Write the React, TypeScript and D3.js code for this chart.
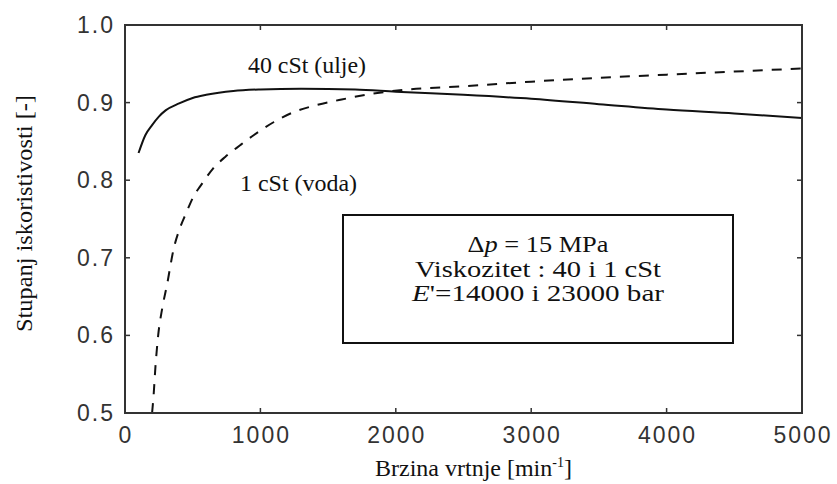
import React from "react";
import * as d3 from "d3";

const xTicks = [0, 1000, 2000, 3000, 4000, 5000];
const yTicks = [0.5, 0.6, 0.7, 0.8, 0.9, 1.0];
const yTickLabels = ["0.5", "0.6", "0.7", "0.8", "0.9", "1.0"];

const oilX = [100, 150, 200, 250, 300, 400, 500, 600, 800, 1000, 1300, 1700, 2000, 2500, 3000, 3500, 4000, 4500, 5000];
const oilY = [0.835, 0.858, 0.871, 0.882, 0.89, 0.899, 0.906, 0.91, 0.915, 0.917, 0.918, 0.917, 0.914, 0.91, 0.905, 0.898, 0.891, 0.886, 0.88];

const waterX = [200, 210, 225, 245, 275, 310, 360, 405, 450, 515, 555, 650, 740, 850, 950, 1100, 1250, 1420, 1600, 1850, 2100, 2500, 3000, 3500, 4000, 4500, 5000];
const waterY = [0.5, 0.52, 0.56, 0.6, 0.635, 0.665, 0.712, 0.738, 0.757, 0.782, 0.792, 0.815, 0.83, 0.845, 0.858, 0.875, 0.888, 0.897, 0.904, 0.912, 0.917, 0.921, 0.927, 0.932, 0.936, 0.94, 0.944];

const L = 125, R = 802, T = 25, B = 413;

export default function App() {
  const x = d3.scaleLinear().domain([0, 5000]).range([L, R]);
  const y = d3.scaleLinear().domain([0.5, 1.0]).range([B, T]);
  const line = d3
    .line<[number, number]>()
    .x((d) => x(d[0]))
    .y((d) => y(d[1]))
    .curve(d3.curveMonotoneX);
  const oil = line(oilX.map((v, i) => [v, oilY[i]]) as [number, number][]) || "";
  const water = line(waterX.map((v, i) => [v, waterY[i]]) as [number, number][]) || "";
  const tickFont = { fontFamily: "'Liberation Sans', Arial, sans-serif", fontSize: 23, letterSpacing: 2, fill: "#333" };
  const serif = "'Liberation Serif', 'Times New Roman', serif";
  const fs = 24;
  const tl = 5;
  return (
    <svg width={837} height={484} style={{ position: "absolute", left: 0, top: 0, background: "#fff" }}>
      <rect x={0} y={0} width={837} height={484} fill="#fff" />
      <defs>
        <clipPath id="plot">
          <rect x={L} y={T} width={R - L} height={B - T} />
        </clipPath>
      </defs>
      <g clipPath="url(#plot)">
        <path d={oil} fill="none" stroke="#111" strokeWidth={2} />
        <path d={water} fill="none" stroke="#111" strokeWidth={2} strokeDasharray="10 9" />
      </g>
      {xTicks.map((t) => (
        <g key={"x" + t}>
          <line x1={x(t)} x2={x(t)} y1={B} y2={B - tl} stroke="#333" strokeWidth={1.5} />
          <line x1={x(t)} x2={x(t)} y1={T} y2={T + tl} stroke="#333" strokeWidth={1.5} />
          <text x={x(t) + 1} y={443} textAnchor="middle" style={tickFont}>
            {String(t)}
          </text>
        </g>
      ))}
      {yTicks.map((t, i) => (
        <g key={"y" + t}>
          <line x1={L} x2={L + tl} y1={y(t)} y2={y(t)} stroke="#333" strokeWidth={1.5} />
          <line x1={R} x2={R - tl} y1={y(t)} y2={y(t)} stroke="#333" strokeWidth={1.5} />
          <text x={115} y={y(t) + 8} textAnchor="end" style={tickFont}>
            {yTickLabels[i]}
          </text>
        </g>
      ))}
      <rect x={L} y={T} width={R - L} height={B - T} fill="none" stroke="#333" strokeWidth={2} />
      <text x={248} y={73} fontFamily={serif} fontSize={fs} fill="#111" textLength={118} lengthAdjust="spacingAndGlyphs">
        40 cSt (ulje)
      </text>
      <text x={240} y={191} fontFamily={serif} fontSize={fs} fill="#111" textLength={117} lengthAdjust="spacingAndGlyphs">
        1 cSt (voda)
      </text>
      <rect x={343} y={215} width={390} height={128} fill="#fff" stroke="#111" strokeWidth={2} />
      <text x={538 - 70.5} y={252} fontFamily={serif} fontSize={fs} fill="#111" textLength={141} lengthAdjust="spacingAndGlyphs">
        Δ<tspan fontStyle="italic">p</tspan> = 15 MPa
      </text>
      <text x={538 - 123} y={277} fontFamily={serif} fontSize={fs} fill="#111" textLength={246} lengthAdjust="spacingAndGlyphs">
        Viskozitet : 40 i 1 cSt
      </text>
      <text x={538 - 126} y={301} fontFamily={serif} fontSize={fs} fill="#111" textLength={252} lengthAdjust="spacingAndGlyphs">
        <tspan fontStyle="italic">E</tspan>'=14000 i 23000 bar
      </text>
      <text
        transform={`translate(32, 332) rotate(-90)`}
        fontFamily={serif}
        fontSize={fs}
        fill="#111"
        textLength={237}
        lengthAdjust="spacingAndGlyphs"
      >
        Stupanj iskoristivosti [-]
      </text>
      <text x={375} y={476} fontFamily={serif} fontSize={fs} fill="#111">
        Brzina vrtnje [min<tspan fontSize={14} dy={-9}>-1</tspan><tspan dy={9}>]</tspan>
      </text>
    </svg>
  );
}
